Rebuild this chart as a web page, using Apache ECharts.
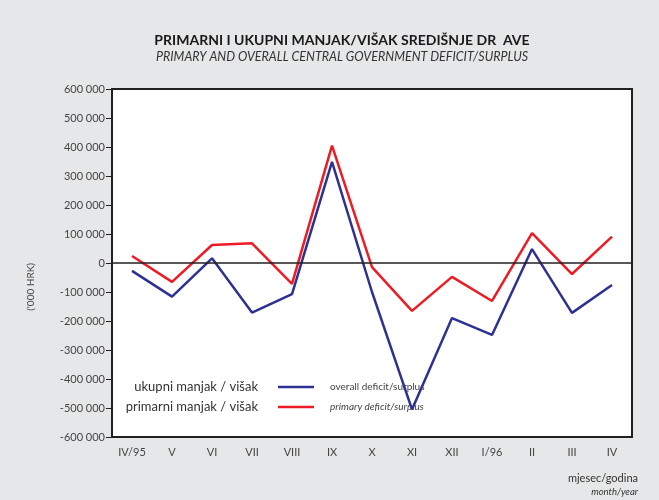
<!DOCTYPE html>
<html lang="hr">
<head>
    <meta charset="UTF-8">
    <title>Primarni i ukupni manjak/višak</title>
    <script src="https://cdn.jsdelivr.net/npm/echarts@6/dist/echarts.min.js"></script>
    <style>
        html, body { margin: 0; padding: 0; background: #e6e7e8; }
    </style>
</head>
<body>
<div id="main" style="width: 659px;height:500px;"></div>

<script type="text/javascript">
    // mjeseci (IV/95 - IV/96)
    var months = ['IV/95', 'V', 'VI', 'VII', 'VIII', 'IX', 'X', 'XI', 'XII', 'I/96', 'II', 'III', 'IV'];
    // ukupni manjak / višak ('000 HRK)
    var overall = [-27000, -116000, 16000, -171000, -107000, 349000, -100000, -505000, -190000, -248000, 48000, -172000, -76000];
    // primarni manjak / višak ('000 HRK)
    var primary = [24000, -65000, 62000, 68000, -72000, 405000, -14000, -165000, -48000, -131000, 103000, -38000, 91000];
    var yMin = -600000, yMax = 600000, yStep = 100000;

    var blue = '#2e3192';
    var red = '#ed1c24';
    var font = 'Lato, "Open Sans", sans-serif';

    var myChart = echarts.init(document.getElementById('main'));

    function fmt(v) {
        if (v === 0) return '0';
        return (v / 1000) + ' 000';
    }

    var option = {
        animation: false,
        backgroundColor: '#e6e7e8',
        textStyle: { fontFamily: font },
        title: {
            text: 'PRIMARNI I UKUPNI MANJAK/VIŠAK SREDIŠNJE DR  AVE',
            subtext: 'PRIMARY AND OVERALL CENTRAL GOVERNMENT DEFICIT/SURPLUS',
            left: 337,
            textAlign: 'center',
            top: 28,
            itemGap: 3,
            textStyle: { fontFamily: font, fontSize: 14, fontWeight: 'bold', color: '#1a1a1a' },
            subtextStyle: { fontFamily: font, fontSize: 12.5, fontStyle: 'italic', color: '#333' }
        },
        grid: {
            left: 112, right: 27, top: 89, bottom: 63,
            show: true,
            backgroundColor: '#fff',
            borderColor: '#231f20',
            borderWidth: 2
        },
        xAxis: {
            type: 'category',
            data: months,
            boundaryGap: true,
            axisLine: { show: false },
            axisTick: { show: false },
            axisLabel: { color: '#444', fontSize: 11, margin: 10, fontFamily: font }
        },
        yAxis: {
            type: 'value',
            min: yMin, max: yMax, interval: yStep,
            axisLine: { show: true, lineStyle: { color: '#231f20', width: 2 } },
            axisTick: { show: true, length: 6, lineStyle: { color: '#231f20', width: 1 } },
            splitLine: { show: false },
            axisLabel: { color: '#444', fontSize: 11, margin: 7, formatter: fmt, fontFamily: font }
        },
        series: [
            {
                name: 'overall deficit/surplus',
                type: 'line',
                data: overall,
                symbol: 'none',
                lineStyle: { color: blue, width: 2.5 },
                itemStyle: { color: blue },
                markLine: {
                    silent: true,
                    symbol: 'none',
                    label: { show: false },
                    lineStyle: { color: '#231f20', width: 1.5, type: 'solid' },
                    data: [{ yAxis: 0 }]
                },
                z: 3
            },
            {
                name: 'primary deficit/surplus',
                type: 'line',
                data: primary,
                symbol: 'none',
                lineStyle: { color: red, width: 2.5 },
                itemStyle: { color: red },
                z: 2
            }
        ],
        graphic: [
            {
                type: 'text', left: 26, top: 263, rotation: Math.PI / 2,
                style: { text: "('000 HRK)", fontSize: 10, fill: '#444', fontFamily: font, textAlign: 'center', textVerticalAlign: 'middle' }
            },
            {
                type: 'text', x: 258, y: 387,
                style: { text: 'ukupni manjak / višak', fontSize: 13, fill: '#333', fontFamily: font, textAlign: 'right', textVerticalAlign: 'middle' }
            },
            {
                type: 'text', x: 258, y: 407,
                style: { text: 'primarni manjak / višak', fontSize: 13, fill: '#333', fontFamily: font, textAlign: 'right', textVerticalAlign: 'middle' }
            },
            {
                type: 'line', shape: { x1: 278, y1: 387, x2: 314, y2: 387 },
                style: { stroke: blue, lineWidth: 2.5 }
            },
            {
                type: 'line', shape: { x1: 278, y1: 407, x2: 314, y2: 407 },
                style: { stroke: red, lineWidth: 2.5 }
            },
            {
                type: 'text', x: 330, y: 387,
                style: { text: 'overall deficit/surplus', fontSize: 10, fill: '#444', fontFamily: font, textVerticalAlign: 'middle' }
            },
            {
                type: 'text', x: 330, y: 407,
                style: { text: 'primary deficit/surplus', fontSize: 10, fill: '#444', fontStyle: 'italic', fontFamily: font, textVerticalAlign: 'middle' }
            },
            {
                type: 'text', x: 638, y: 478,
                style: { text: 'mjesec/godina', fontSize: 11, fill: '#333', fontFamily: font, textAlign: 'right', textVerticalAlign: 'middle' }
            },
            {
                type: 'text', x: 638, y: 492,
                style: { text: 'month/year', fontSize: 9.5, fill: '#333', fontStyle: 'italic', fontFamily: font, textAlign: 'right', textVerticalAlign: 'middle' }
            }
        ]
    };

    myChart.setOption(option);
</script>
</body>
</html>
